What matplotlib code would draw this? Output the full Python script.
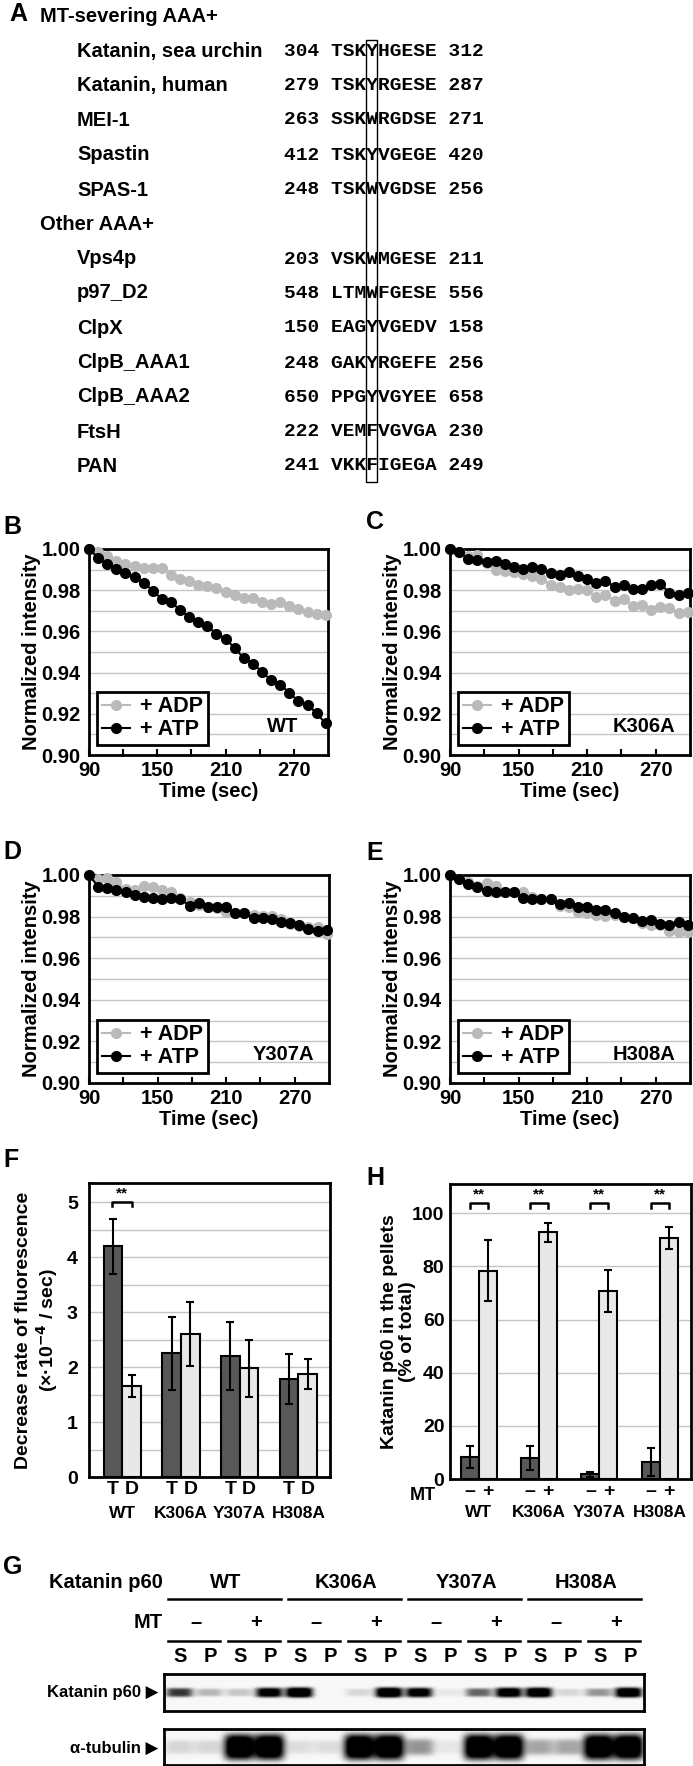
import numpy as np
import matplotlib
matplotlib.use("Agg")
import matplotlib.pyplot as plt
from matplotlib.patches import Rectangle

# ---------------- data ----------------
# A: alignment around the conserved aromatic residue
sev_names = ["Katanin, sea urchin", "Katanin, human", "MEI-1", "Spastin", "SPAS-1"]
sev_start = [304, 279, 263, 412, 248]
sev_seq = ["TSKYHGESE", "TSKYRGESE", "SSKWRGDSE", "TSKYVGEGE", "TSKWVGDSE"]
sev_end = [312, 287, 271, 420, 256]
oth_names = ["Vps4p", "p97_D2", "ClpX", "ClpB_AAA1", "ClpB_AAA2", "FtsH", "PAN"]
oth_start = [203, 548, 150, 248, 650, 222, 241]
oth_seq = ["VSKWMGESE", "LTMWFGESE", "EAGYVGEDV", "GAKYRGEFE", "PPGYVGYEE", "VEMFVGVGA", "VKKFIGEGA"]
oth_end = [211, 556, 158, 256, 658, 230, 249]

# B-E: normalized intensity vs time (sec)
time_s = [90, 98, 106, 114, 122, 130, 138, 146, 154, 162, 170, 178, 186, 194,
          202, 210, 218, 226, 234, 242, 250, 258, 266, 274, 282, 290, 298]
wt_adp = [1.0, .9984, .9965, .9940, .9929, .9916, .9908, .9908, .9908, .9873, .9856, .9844, .9824, .9819,
          .9811, .9792, .9779, .9763, .9763, .9742, .9731, .9742, .9723, .9710, .9694, .9685, .9682]
wt_atp = [1.0, .9958, .9928, .9902, .9882, .9863, .9837, .9798, .9757, .9741, .9706, .9668, .9648, .9626,
          .9589, .9565, .9519, .9471, .9444, .9403, .9363, .9342, .9303, .9261, .9245, .9202, .9153]
k306a_adp = [1.0, .9985, .9965, .9969, .9932, .9900, .9895, .9887, .9879, .9868, .9852, .9827, .9815, .9803,
             .9808, .9803, .9766, .9776, .9750, .9755, .9723, .9727, .9706, .9718, .9715, .9690, .9695]
k306a_atp = [1.0, .9985, .9953, .9945, .9937, .9944, .9929, .9913, .9905, .9913, .9905, .9884, .9873, .9887,
             .9871, .9856, .9835, .9847, .9816, .9823, .9808, .9808, .9823, .9832, .9787, .9776, .9787]
y307a_adp = [1.0, .9981, .9984, .9965, .9932, .9929, .9945, .9940, .9929, .9916, .9889, .9868, .9855, .9847,
             .9839, .9823, .9819, .9816, .9806, .9803, .9803, .9787, .9763, .9755, .9752, .9752, .9715]
y307a_atp = [1.0, .9944, .9937, .9929, .9916, .9903, .9892, .9889, .9884, .9889, .9884, .9852, .9866, .9847,
             .9847, .9844, .9815, .9815, .9792, .9792, .9787, .9774, .9768, .9758, .9742, .9731, .9735]
h308a_adp = [1.0, .9981, .9965, .9948, .9960, .9948, .9919, .9916, .9919, .9895, .9887, .9884, .9852, .9847,
             .9823, .9819, .9806, .9802, .9810, .9798, .9794, .9771, .9761, .9761, .9729, .9726, .9726]
h308a_atp = [1.0, .9981, .9956, .9944, .9923, .9919, .9919, .9916, .9890, .9884, .9887, .9884, .9860, .9863,
             .9847, .9844, .9834, .9831, .9818, .9798, .9794, .9777, .9782, .9766, .9758, .9774, .9761]

# F: decrease rate of fluorescence (x10^-4 / sec), T = ATP, D = ADP
mutants = ["WT", "K306A", "Y307A", "H308A"]
rate_atp = [4.2, 2.25, 2.2, 1.78]
rate_atp_err = [0.5, 0.67, 0.62, 0.45]
rate_adp = [1.65, 2.6, 1.98, 1.88]
rate_adp_err = [0.2, 0.58, 0.52, 0.27]

# H: katanin p60 in pellets (% of total)
pellet_minus = [8.3, 8.0, 1.7, 6.4]
pellet_minus_err = [4.1, 4.6, 0.8, 5.4]
pellet_plus = [78.3, 92.8, 70.8, 90.6]
pellet_plus_err = [11.5, 3.7, 7.8, 4.1]

# G: band intensities per lane (S, P for MT -, MT + in each mutant)
p60_bands = [0.6, 0.2, 0.15, 0.85, 1.0, 0.0, 0.1, 1.0,
             0.85, 0.05, 0.45, 0.9, 0.95, 0.1, 0.3, 0.95]
tub_bands = [0.1, 0.1, 1.0, 1.0, 0.08, 0.08, 1.0, 1.0,
             0.3, 0.05, 1.0, 1.0, 0.25, 0.25, 1.0, 1.0]

# ---------------- figure ----------------
W, H = 693, 1766
plt.rcParams['font.family'] = ['Liberation Sans', 'DejaVu Sans']
plt.rcParams['font.weight'] = 'bold'
plt.rcParams['axes.labelweight'] = 'bold'
plt.rcParams['font.size'] = 14
fig = plt.figure(figsize=(W / 100, H / 100), dpi=100)


def px_axes(x0, y0, x1, y1):
    return fig.add_axes([x0 / W, 1 - y1 / H, (x1 - x0) / W, (y1 - y0) / H])


canvas = fig.add_axes([0, 0, 1, 1])
canvas.set_xlim(0, W)
canvas.set_ylim(H, 0)
canvas.axis('off')

# panel letters
for lx, ly, letter in [(9, 14, "A"), (3, 527, "B"), (366, 522, "C"), (3, 852, "D"),
                       (366, 853, "E"), (3, 1160, "F"), (366, 1178, "H"), (3, 1567, "G")]:
    canvas.text(lx, ly, letter, fontsize=18, va='center')

# ---- A ----
cw = 0.6 * 14 * 100 / 72
canvas.text(40, 17, "MT-severing AAA+", fontsize=14.5, va='center')
canvas.text(40, 224, "Other AAA+", fontsize=14.5, va='center')
rows_sev = [52, 86, 120, 155, 190]
rows_oth = [259, 293, 328, 363, 397, 432, 466]
for ys, names, st, sq, en in [(rows_sev, sev_names, sev_start, sev_seq, sev_end),
                              (rows_oth, oth_names, oth_start, oth_seq, oth_end)]:
    for y, n, s, q, e in zip(ys, names, st, sq, en):
        canvas.text(77, y, n, fontsize=14.5, va='center')
        canvas.text(284, y, f"{s} {q} {e}", family='Liberation Mono',
                    fontsize=14, va='center')
canvas.add_patch(Rectangle((284 + 7 * cw, 40), cw, 442, fill=False, lw=1, color='black'))


# ---- B-E ----
def decay_panel(ax, adp, atp, tag):
    ax.plot(time_s, adp, '-o', color='#bababa', ms=7, lw=1.5, label='+ ADP',
            clip_on=False, zorder=3)
    ax.plot(time_s, atp, '-o', color='black', ms=7, lw=1.5, label='+ ATP',
            clip_on=False, zorder=4)
    ax.set_xlim(90, 300)
    ax.set_ylim(0.90, 1.00)
    ax.set_yticks(np.arange(0.90, 1.001, 0.02))
    ax.set_yticklabels([f"{v:.2f}" for v in np.arange(0.90, 1.001, 0.02)])
    ax.set_yticks(np.arange(0.91, 1.0, 0.02), minor=True)
    ax.grid(axis='y', which='both', color='#c4c4c4', lw=1)
    ax.set_axisbelow(True)
    ax.set_xticks([90, 150, 210, 270])
    ax.set_xticks([120, 180, 240], minor=True)
    ax.tick_params(axis='x', which='both', direction='in', length=4, width=1.5, pad=4)
    ax.tick_params(axis='y', which='both', length=0, pad=6)
    ax.tick_params(labelsize=14.5)
    for sp in ax.spines.values():
        sp.set_linewidth(2)
    leg = ax.legend(loc='lower left', bbox_to_anchor=(0.035, 0.05), borderaxespad=0,
                    fancybox=False, edgecolor='black', fontsize=15.5, handlelength=1.3,
                    borderpad=0.2, labelspacing=0.1, handletextpad=0.5, framealpha=1)
    leg.get_frame().set_linewidth(2)
    ax.text(0.81, 0.136, tag, transform=ax.transAxes, ha='center', va='center', fontsize=14.5)
    ax.set_xlabel("Time (sec)", fontsize=14.5, labelpad=2)
    ax.set_ylabel("Normalized intensity", fontsize=14.5)
    ax.yaxis.set_label_coords(-0.2, 0.5)


decay_panel(px_axes(89, 549, 328, 755), wt_adp, wt_atp, "WT")
decay_panel(px_axes(450, 549, 690, 755), k306a_adp, k306a_atp, "K306A")
decay_panel(px_axes(89, 875, 329, 1083), y307a_adp, y307a_atp, "Y307A")
decay_panel(px_axes(450, 875, 690, 1083), h308a_adp, h308a_atp, "H308A")


def bracket(ax, x0, x1, y, leg, star_y):
    ax.plot([x0, x0, x1, x1], [y - leg, y, y, y - leg], color='black', lw=1.8)
    ax.text((x0 + x1) / 2, star_y, "**", ha='center', va='bottom', fontsize=11)


def box_spines(ax):
    for sp in ax.spines.values():
        sp.set_linewidth(2)


# ---- F ----
axF = px_axes(89, 1183, 330, 1477)
g = np.arange(len(mutants))
bw = 0.32
axF.bar(g - bw / 2, rate_atp, bw, color='#585858', edgecolor='black', lw=1.5,
        yerr=rate_atp_err, error_kw=dict(lw=1.5, capsize=3, capthick=1.5))
axF.bar(g + bw / 2, rate_adp, bw, color='#e8e8e8', edgecolor='black', lw=1.5,
        yerr=rate_adp_err, error_kw=dict(lw=1.5, capsize=3, capthick=1.5))
axF.set_xlim(-0.57, 3.54)
axF.set_ylim(0, 5.35)
axF.set_yticks(range(6))
axF.set_yticks(np.arange(0.5, 5.1, 1.0), minor=True)
axF.grid(axis='y', which='both', color='#c4c4c4', lw=1)
axF.set_axisbelow(True)
axF.set_xticks(np.concatenate([g - bw / 2, g + bw / 2]))
axF.set_xticklabels(["T"] * 4 + ["D"] * 4)
axF.tick_params(axis='both', which='both', length=0, labelsize=14)
axF.tick_params(axis='y', pad=8)
axF.tick_params(axis='x', pad=3)
for gi, name in zip(g, mutants):
    axF.text(gi, -0.125, name, transform=axF.get_xaxis_transform(), ha='center',
             va='center', fontsize=12.5)
bracket(axF, -0.17, 0.17, 5.0, 0.07, 5.03)
axF.set_ylabel("Decrease rate of fluorescence\n(×·10$^{\\mathbf{-4}}$ / sec)", fontsize=14,
               linespacing=1.1)
axF.yaxis.set_label_coords(-0.12, 0.5)
box_spines(axF)

# ---- H ----
axH = px_axes(450, 1184, 691, 1479)
bh = 0.3
axH.bar(g - bh / 2, pellet_minus, bh, color='#585858', edgecolor='black', lw=1.5,
        yerr=pellet_minus_err, error_kw=dict(lw=1.5, capsize=3, capthick=1.5))
axH.bar(g + bh / 2, pellet_plus, bh, color='#e8e8e8', edgecolor='black', lw=1.5,
        yerr=pellet_plus_err, error_kw=dict(lw=1.5, capsize=3, capthick=1.5))
axH.set_xlim(-0.48, 3.52)
axH.set_ylim(0, 111)
axH.set_yticks(range(0, 101, 20))
axH.grid(axis='y', color='#c4c4c4', lw=1)
axH.set_axisbelow(True)
axH.set_xticks(np.concatenate([g - bh / 2, g + bh / 2]))
axH.set_xticklabels(["–"] * 4 + ["+"] * 4)
axH.tick_params(axis='both', length=0, labelsize=14)
axH.tick_params(axis='y', pad=4)
axH.tick_params(axis='x', pad=3)
for gi, name in zip(g, mutants):
    axH.text(gi, -0.115, name, transform=axH.get_xaxis_transform(), ha='center',
             va='center', fontsize=12.5)
axH.text(-0.06, -0.055, "MT", transform=axH.transAxes, ha='right', va='center', fontsize=13)
for gi in g:
    bracket(axH, gi - 0.15, gi + 0.15, 104, 2, 104.5)
axH.set_ylabel("Katanin p60 in the pellets\n(% of total)", fontsize=14, linespacing=1.1)
axH.yaxis.set_label_coords(-0.14, 0.5)
box_spines(axH)

# ---- G ----
canvas.text(163, 1583, "Katanin p60", ha='right', va='center', fontsize=14.5)
canvas.text(163, 1622, "MT", ha='right', va='center', fontsize=14.5)
for k, name in enumerate(mutants):
    x0 = 164 + 120 * k
    canvas.text(x0 + 62, 1583, name, ha='center', va='center', fontsize=14.5)
    canvas.plot([x0 + 4, x0 + 117], [1599, 1599], color='black', lw=1.8)
    for m, sign in enumerate(["–", "+"]):
        xm = x0 + 60 * m
        canvas.text(xm + 32, 1622, sign, ha='center', va='center', fontsize=14.5)
        canvas.plot([xm + 4, xm + 56], [1641, 1641], color='black', lw=1.8)
        canvas.text(xm + 16, 1657, "S", ha='center', va='center', fontsize=14.5)
        canvas.text(xm + 46, 1657, "P", ha='center', va='center', fontsize=14.5)


def blot(ax, amps, half_w, half_h, grow):
    xs = np.linspace(0, 16, 480)
    ys = np.linspace(0, 1, 60)
    X, Y = np.meshgrid(xs, ys)
    img = np.full(X.shape, 0.03)
    for i, a in enumerate(amps):
        hh = half_h * (1 + grow * a)
        img += 1.3 * a * np.exp(-((X - i - 0.5) / half_w) ** 4) * np.exp(-((Y - 0.5) / hh) ** 4)
    ax.imshow(np.clip(img, 0, 1), cmap='gray_r', vmin=0, vmax=1, extent=[0, 16, 1, 0],
              aspect='auto', interpolation='bilinear')
    ax.set_xticks([])
    ax.set_yticks([])
    box_spines(ax)


blot(px_axes(164, 1674, 644, 1711), p60_bands, 0.45, 0.1, 0.4)
blot(px_axes(164, 1729, 644, 1765), tub_bands, 0.5, 0.18, 1.0)
canvas.text(158, 1693, "Katanin p60 ▶", ha='right', va='center', fontsize=12)
canvas.text(158, 1748, "α-tubulin ▶", ha='right', va='center', fontsize=12)

fig.savefig("out.png", dpi=100)
